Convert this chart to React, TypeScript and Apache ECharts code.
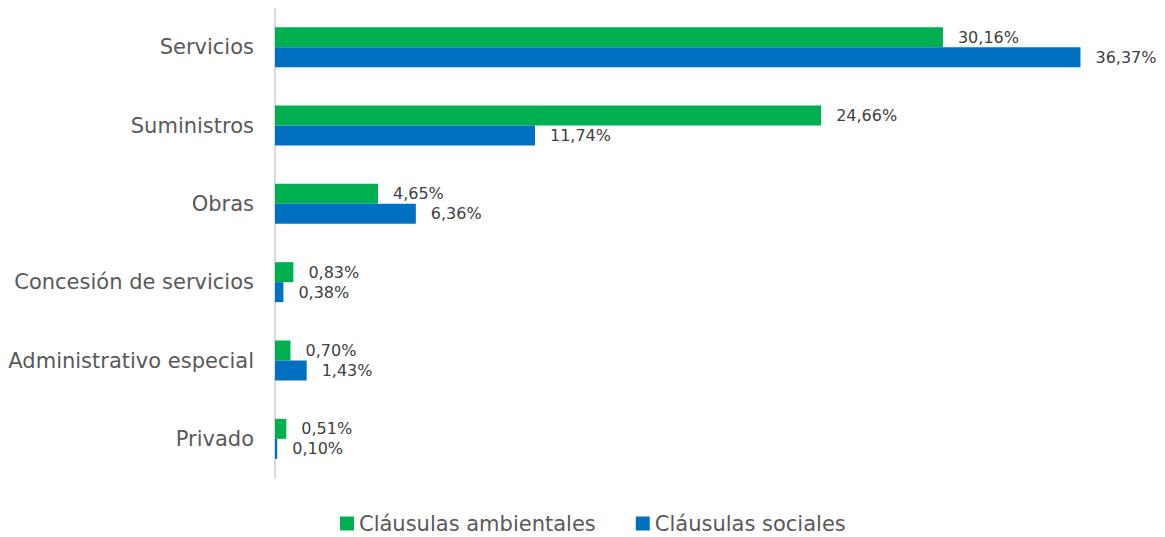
import React, { useEffect, useRef } from "react";
import * as echarts from "echarts";

const categories = ["Servicios", "Suministros", "Obras", "Concesión de servicios", "Administrativo especial", "Privado"];
const ambientales = [30.16, 24.66, 4.65, 0.83, 0.7, 0.51];
const sociales = [36.37, 11.74, 6.36, 0.38, 1.43, 0.1];
const seriesNames = ["Cláusulas ambientales", "Cláusulas sociales"];

const fmt = (v: number) => v.toFixed(2).replace(".", ",") + "%";

export default function App() {
  const ref = useRef<HTMLDivElement>(null);
  useEffect(() => {
    const chart = echarts.init(ref.current!, null, { renderer: "svg" });
    const font = "DejaVu Sans";
    const label = {
      show: true,
      position: "right" as const,
      distance: 15,
      color: "#404040",
      fontSize: 16,
      fontFamily: font,
      formatter: (p: any) => fmt(p.value),
    };
    chart.setOption({
      animation: false,
      grid: { left: 267, right: 5, top: 0, bottom: 67, containLabel: false, outerBoundsMode: "none" },
      legend: {
        top: 500,
        left: 327,
        itemWidth: 14,
        itemHeight: 14,
        itemGap: 40,
        icon: "rect",
        textStyle: { fontSize: 21, color: "#595959", fontFamily: font },
        data: seriesNames,
      },
      xAxis: { type: "value", min: 0, max: 39.6, show: false },
      yAxis: {
        type: "category",
        data: categories,
        inverse: true,
        axisLine: { show: true, lineStyle: { color: "#d9d9d9", width: 2 } },
        axisTick: { show: false },
        axisLabel: { fontSize: 21, color: "#595959", fontFamily: font, margin: 21 },
      },
      series: [
        {
          name: seriesNames[0],
          type: "bar",
          data: ambientales,
          barWidth: 20,
          barGap: "0%",
          itemStyle: { color: "#00b050" },
          label,
        },
        {
          name: seriesNames[1],
          type: "bar",
          data: sociales,
          barWidth: 20,
          barGap: "0%",
          itemStyle: { color: "#0070c0" },
          label,
        },
      ],
    });
    return () => chart.dispose();
  }, []);
  return <div ref={ref} style={{ width: 1149, height: 537 }} />;
}
